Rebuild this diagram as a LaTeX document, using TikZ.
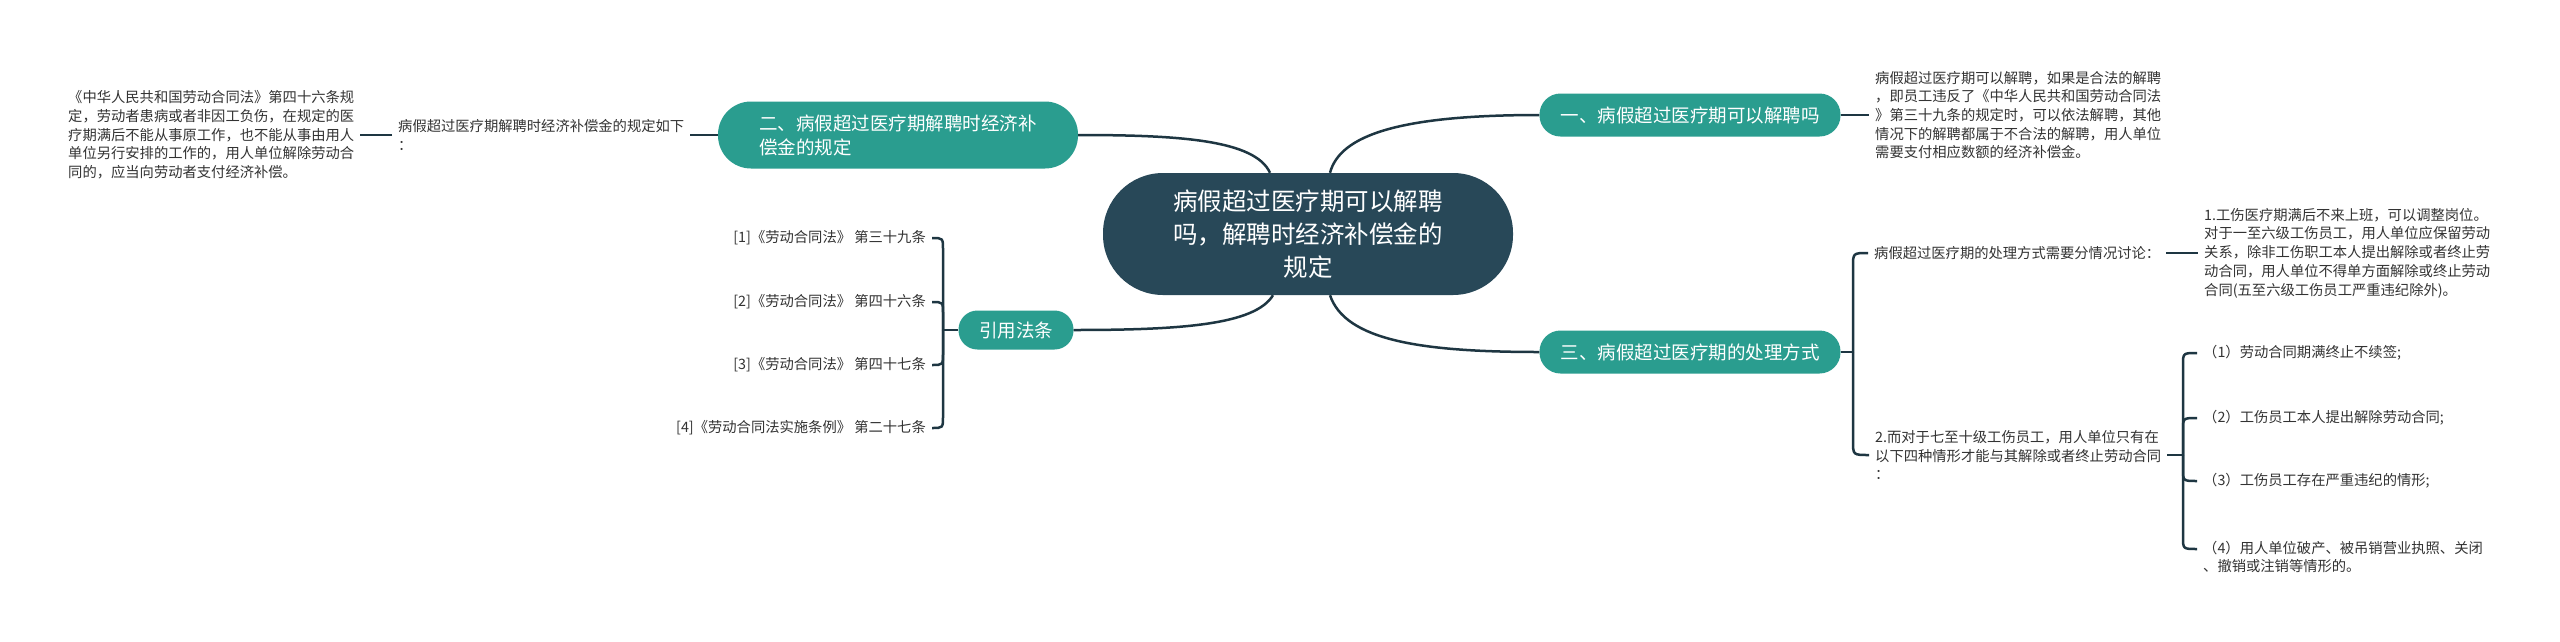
\documentclass[tikz,border=0pt]{standalone}
\usepackage{fontspec}
\setmainfont{Noto Sans CJK SC}
\usetikzlibrary{calc}
\definecolor{centralc}{HTML}{284858}
\definecolor{branchc}{HTML}{2A9D8F}
\definecolor{linec}{HTML}{1E3642}
\definecolor{leafc}{HTML}{333333}
\tikzset{
  conn/.style={draw=linec, line width=2.5pt},
  centralbox/.style={fill=centralc, text=white, rounded corners=60pt, minimum width=410pt, minimum height=122pt, align=center, font=\fontsize{24.5}{33}\selectfont, inner sep=0pt},
  branchbox/.style={fill=branchc, text=white, align=center, font=\fontsize{18.5}{24}\selectfont, inner sep=0pt},
  leaf/.style={text=leafc, align=left, font=\fontsize{14.3}{18.7}\selectfont, inner xsep=6pt, inner ysep=0pt},
}
\begin{document}
\begin{tikzpicture}[x=1pt,y=-1pt]
\path[use as bounding box, fill=white] (0,0) rectangle (2560,641);

% central and branch nodes
\node[centralbox] (C) at (1308,234) {病假超过医疗期可以解聘\\吗，解聘时经济补偿金的\\规定};
\node[branchbox, minimum width=360pt, minimum height=67pt, rounded corners=33pt, align=left] (B2) at (898,135) {二、病假超过医疗期解聘时经济补\\偿金的规定};
\node[branchbox, minimum width=301pt, minimum height=43pt, rounded corners=21pt] (B1) at (1690,115) {一、病假超过医疗期可以解聘吗};
\node[branchbox, minimum width=301pt, minimum height=43pt, rounded corners=21pt] (B3) at (1690,352) {三、病假超过医疗期的处理方式};
\node[branchbox, minimum width=115pt, minimum height=39pt, rounded corners=19pt] (BC) at (1016,330) {引用法条};

% left leaves
\node[leaf, anchor=west] (L2a) at (392,135) {病假超过医疗期解聘时经济补偿金的规定如下\\：};
\node[leaf, anchor=west] (L2b) at (62,135) {《中华人民共和国劳动合同法》第四十六条规\\定，劳动者患病或者非因工负伤，在规定的医\\疗期满后不能从事原工作，也不能从事由用人\\单位另行安排的工作的，用人单位解除劳动合\\同的，应当向劳动者支付经济补偿。};

\node[leaf, anchor=east] (c1) at (932,238) {[1]《劳动合同法》 第三十九条};
\node[leaf, anchor=east] (c2) at (932,302) {[2]《劳动合同法》 第四十六条};
\node[leaf, anchor=east] (c3) at (932,365) {[3]《劳动合同法》 第四十七条};
\node[leaf, anchor=east] (c4) at (932,428) {[4]《劳动合同法实施条例》 第二十七条};

% right leaves
\node[leaf, anchor=west] (R1) at (1869,115) {病假超过医疗期可以解聘，如果是合法的解聘\\，即员工违反了《中华人民共和国劳动合同法\\》第三十九条的规定时，可以依法解聘，其他\\情况下的解聘都属于不合法的解聘，用人单位\\需要支付相应数额的经济补偿金。};
\node[leaf, anchor=west] (R3a) at (1868,253) {病假超过医疗期的处理方式需要分情况讨论：};
\node[leaf, anchor=west] (R3a1) at (2198,253) {1.工伤医疗期满后不来上班，可以调整岗位。\\对于一至六级工伤员工，用人单位应保留劳动\\关系，除非工伤职工本人提出解除或者终止劳\\动合同，用人单位不得单方面解除或终止劳动\\合同(五至六级工伤员工严重违纪除外)。};
\node[leaf, anchor=west] (R3b) at (1869,455) {2.而对于七至十级工伤员工，用人单位只有在\\以下四种情形才能与其解除或者终止劳动合同\\：};
\node[leaf, anchor=west] (q1) at (2197,353) {（1）劳动合同期满终止不续签;};
\node[leaf, anchor=west] (q2) at (2197,418) {（2）工伤员工本人提出解除劳动合同;};
\node[leaf, anchor=west] (q3) at (2197,481) {（3）工伤员工存在严重违纪的情形;};
\node[leaf, anchor=west] (q4) at (2197,557) {（4）用人单位破产、被吊销营业执照、关闭\\、撤销或注销等情形的。};

% central connectors
\draw[conn] ($(C.north)+(22,0)$) .. controls (1340,135) and (1400,115) .. (B1.west);
\draw[conn] ($(C.north)+(-38,0)$) .. controls (1255,140) and (1180,135) .. (B2.east);
\draw[conn] ($(C.south)+(-35,0)$) .. controls (1255,325) and (1180,330) .. (BC.east);
\draw[conn] ($(C.south)+(22,0)$) .. controls (1345,340) and (1420,352) .. (B3.west);

% left leaf connectors
\draw[conn] (B2.west) -- (L2a.east);
\draw[conn] (L2a.west) -- (L2b.east);

% citation bracket
\coordinate (hc) at (943,330);
\draw[conn] (BC.west) -- (hc);
\draw[conn] (hc) -- ($(hc |- c1.east)+(0,12)$) .. controls (hc |- c1.east) .. (c1.east);
\draw[conn] (hc) -- ($(hc |- c2.east)+(0,12)$) .. controls (hc |- c2.east) .. (c2.east);
\draw[conn] (hc) -- ($(hc |- c3.east)+(0,-12)$) .. controls (hc |- c3.east) .. (c3.east);
\draw[conn] (hc) -- ($(hc |- c4.east)+(0,-12)$) .. controls (hc |- c4.east) .. (c4.east);

% right connectors
\draw[conn] (B1.east) -- (R1.west);
\coordinate (h3) at (1853,352);
\draw[conn] (B3.east) -- (h3);
\draw[conn] (h3) -- ($(h3 |- R3a.west)+(0,14)$) .. controls (h3 |- R3a.west) .. (R3a.west);
\draw[conn] (h3) -- ($(h3 |- R3b.west)+(0,-14)$) .. controls (h3 |- R3b.west) .. (R3b.west);
\draw[conn] (R3a.east) -- (R3a1.west);

\coordinate (h4) at (2183,455);
\draw[conn] (R3b.east) -- (h4);
\coordinate (q4e) at ($(q4.west)+(0,-8)$);
\draw[conn] (h4) -- ($(h4 |- q1.west)+(0,12)$) .. controls (h4 |- q1.west) .. (q1.west);
\draw[conn] (h4) -- ($(h4 |- q2.west)+(0,12)$) .. controls (h4 |- q2.west) .. (q2.west);
\draw[conn] (h4) -- ($(h4 |- q3.west)+(0,-12)$) .. controls (h4 |- q3.west) .. (q3.west);
\draw[conn] (h4) -- ($(h4 |- q4e)+(0,-12)$) .. controls (h4 |- q4e) .. (q4e);
\end{tikzpicture}
\end{document}
